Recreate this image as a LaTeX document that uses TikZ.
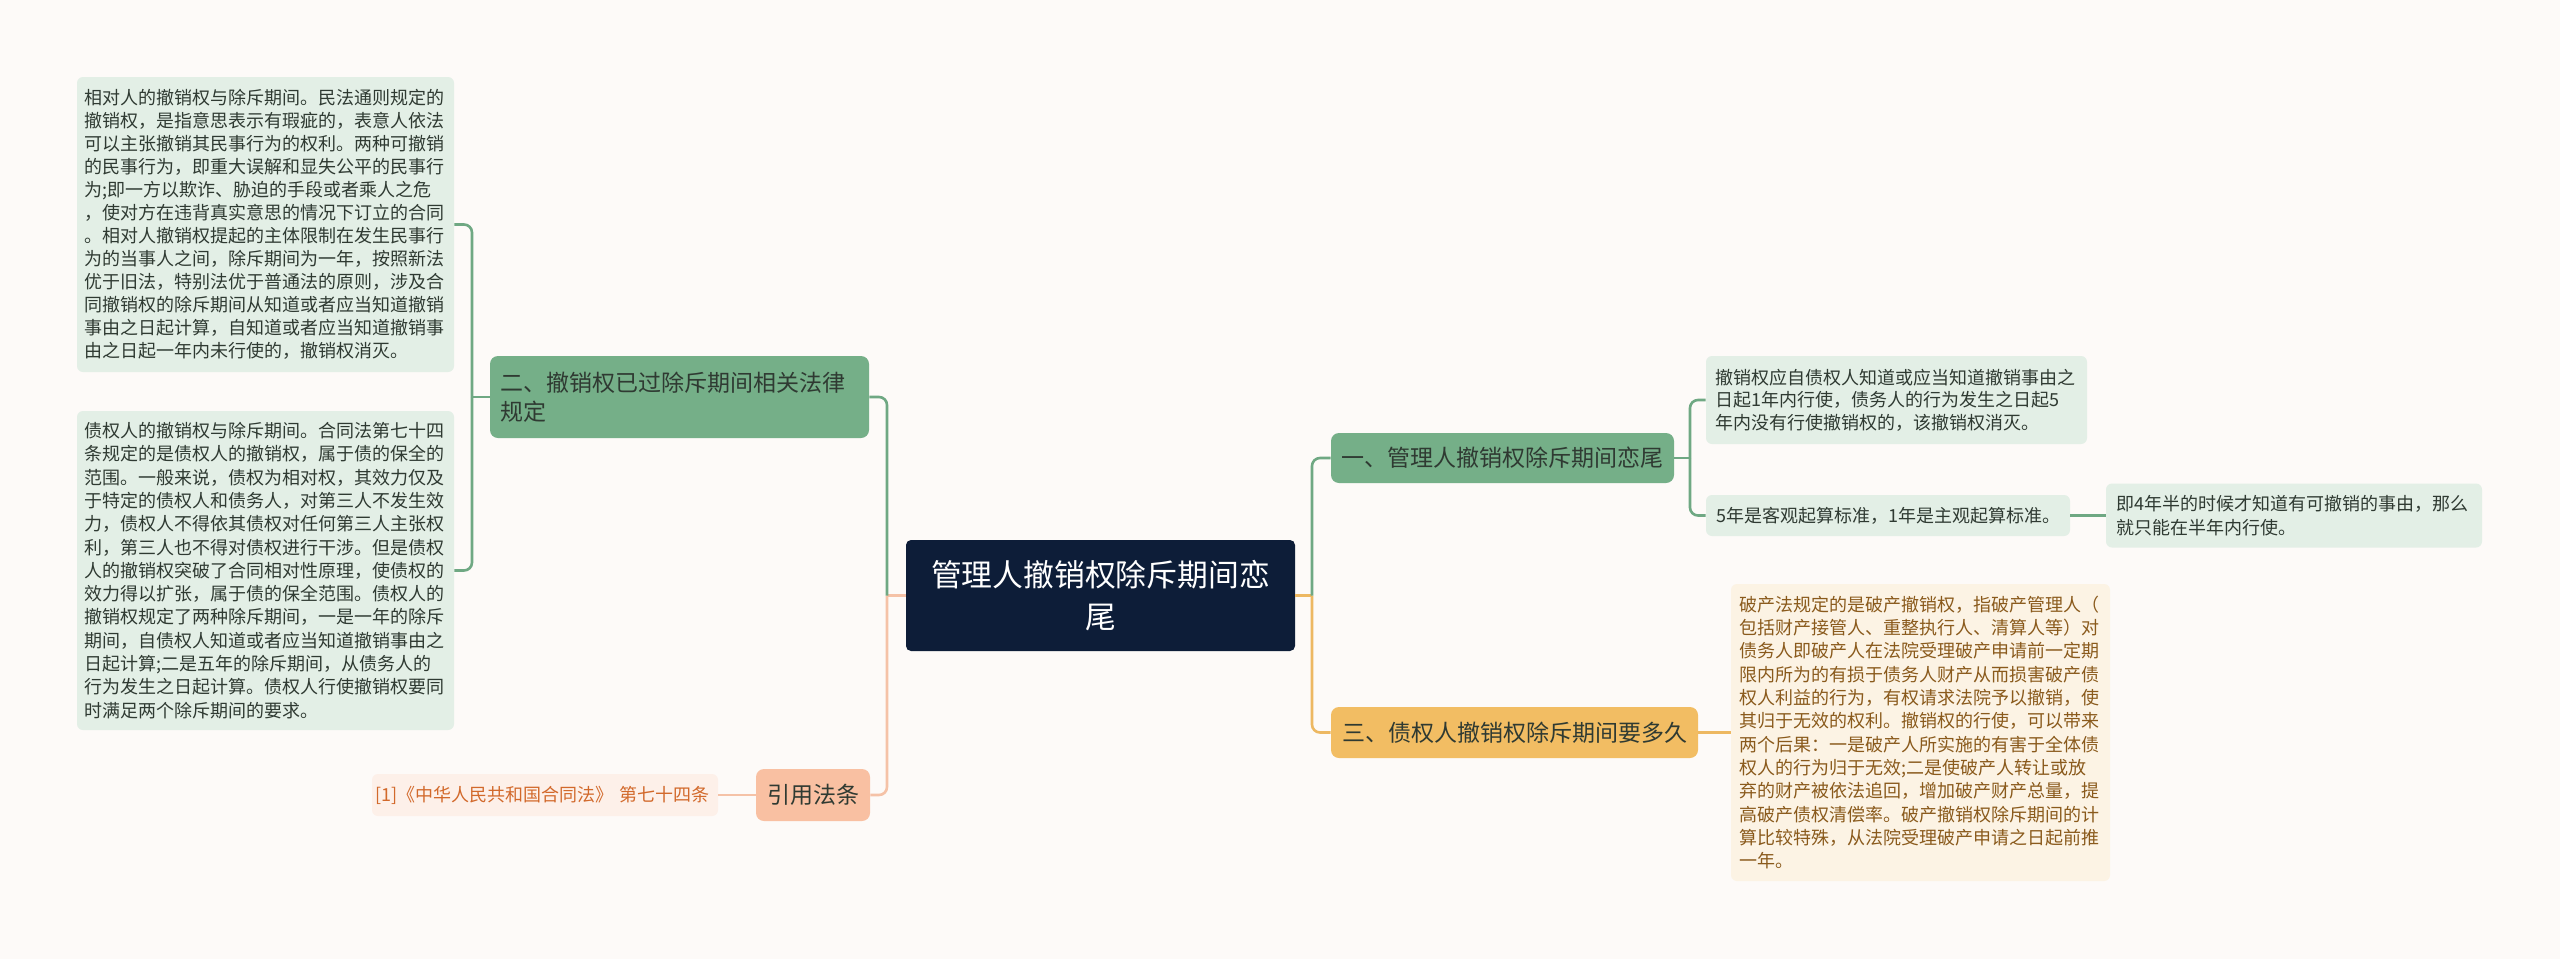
\documentclass[tikz,border=0pt]{standalone}
\usepackage{fontspec}
\setmainfont{Noto Sans CJK SC}
\usetikzlibrary{positioning,calc}
\definecolor{bgc}{HTML}{FDFAF8}
\definecolor{navy}{HTML}{0D1D38}
\definecolor{gmain}{HTML}{75AF88}
\definecolor{gleaf}{HTML}{E3EFE6}
\definecolor{gline}{HTML}{6FA883}
\definecolor{omain}{HTML}{F2BD63}
\definecolor{oleaf}{HTML}{FCF3E4}
\definecolor{oline}{HTML}{EDB862}
\definecolor{otext}{HTML}{8A5A1C}
\definecolor{smain}{HTML}{F9C0A2}
\definecolor{sleaf}{HTML}{FDF0E9}
\definecolor{sline}{HTML}{F5C2A7}
\definecolor{stext}{HTML}{D2692B}
\definecolor{dtext}{HTML}{2F3A32}
\tikzset{
  rootbox/.style={fill=navy, text=white, rounded corners=2.5pt, inner sep=0pt, align=center,
              font=\fontsize{15.4}{21}\selectfont},
  mbox/.style={rounded corners=4pt, inner sep=0pt, text=dtext, font=\fontsize{11.5}{14.7}\selectfont},
  leaf/.style={rounded corners=3pt, inner sep=0pt, align=left, text width=181pt, text=dtext},
  link/.style={line width=1.3pt, rounded corners=4pt}
}
\begin{document}
\begin{tikzpicture}[x=0.5pt, y=-0.5pt]
\useasboundingbox[fill=bgc] (0,0) rectangle (2560,959);
\node[rootbox, minimum width=194.5pt, minimum height=55.5pt, text width=175pt] (root) at (1100.5,595.5) {管理人撤销权除斥期间恋\\尾};
\node[mbox, fill=gmain, minimum width=171.5pt, minimum height=25pt] (m1) at (1502.5,458) {一、管理人撤销权除斥期间恋尾};
\node[mbox, fill=gmain, minimum width=189.5pt, minimum height=41pt, text width=179.5pt, align=left] (m2) at (679.5,397) {二、撤销权已过除斥期间相关法律\\规定};
\node[mbox, fill=omain, minimum width=183.5pt, minimum height=25.5pt] (m3) at (1514.5,732.5) {三、债权人撤销权除斥期间要多久};
\node[mbox, fill=smain, minimum width=57pt, minimum height=26pt] (m4) at (813,795) {引用法条};
\node[leaf, fill=gleaf, minimum width=188.5pt, minimum height=147.5pt, font=\fontsize{9}{11.5}\selectfont] (l1) at (265.5,224.5) {相对人的撤销权与除斥期间。民法通则规定的\\撤销权，是指意思表示有瑕疵的，表意人依法\\可以主张撤销其民事行为的权利。两种可撤销\\的民事行为，即重大误解和显失公平的民事行\\为;即一方以欺诈、胁迫的手段或者乘人之危\\，使对方在违背真实意思的情况下订立的合同\\。相对人撤销权提起的主体限制在发生民事行\\为的当事人之间，除斥期间为一年，按照新法\\优于旧法，特别法优于普通法的原则，涉及合\\同撤销权的除斥期间从知道或者应当知道撤销\\事由之日起计算，自知道或者应当知道撤销事\\由之日起一年内未行使的，撤销权消灭。};
\node[leaf, fill=gleaf, minimum width=188.5pt, minimum height=159.5pt, font=\fontsize{9}{11.65}\selectfont] (l2) at (265.5,570.5) {债权人的撤销权与除斥期间。合同法第七十四\\条规定的是债权人的撤销权，属于债的保全的\\范围。一般来说，债权为相对权，其效力仅及\\于特定的债权人和债务人，对第三人不发生效\\力，债权人不得依其债权对任何第三人主张权\\利，第三人也不得对债权进行干涉。但是债权\\人的撤销权突破了合同相对性原理，使债权的\\效力得以扩张，属于债的保全范围。债权人的\\撤销权规定了两种除斥期间，一是一年的除斥\\期间，自债权人知道或者应当知道撤销事由之\\日起计算;二是五年的除斥期间，从债务人的\\行为发生之日起计算。债权人行使撤销权要同\\时满足两个除斥期间的要求。};
\node[leaf, fill=sleaf, text=stext, minimum width=173pt, minimum height=21pt, text width=170pt, font=\fontsize{9}{11}\selectfont] (c1) at (545,795) {[1]《中华人民共和国合同法》~第七十四条};
\node[leaf, fill=gleaf, minimum width=190.5pt, minimum height=44pt, font=\fontsize{9}{11.2}\selectfont] (r1) at (1896.5,400) {撤销权应自债权人知道或应当知道撤销事由之\\日起1年内行使，债务人的行为发生之日起5\\年内没有行使撤销权的，该撤销权消灭。};
\node[leaf, fill=gleaf, minimum width=182pt, minimum height=20.5pt, text width=172pt, font=\fontsize{9}{11}\selectfont] (r2) at (1888,515.5) {5年是客观起算标准，1年是主观起算标准。};
\node[leaf, fill=gleaf, minimum width=188pt, minimum height=32pt, text width=178pt, font=\fontsize{9}{11.7}\selectfont] (r3) at (2294,515.5) {即4年半的时候才知道有可撤销的事由，那么\\就只能在半年内行使。};
\node[leaf, fill=oleaf, text=otext, minimum width=189.5pt, minimum height=148.5pt, font=\fontsize{9}{11.65}\selectfont] (r4) at (1920.5,732.5) {破产法规定的是破产撤销权，指破产管理人（\\包括财产接管人、重整执行人、清算人等）对\\债务人即破产人在法院受理破产申请前一定期\\限内所为的有损于债务人财产从而损害破产债\\权人利益的行为，有权请求法院予以撤销，使\\其归于无效的权利。撤销权的行使，可以带来\\两个后果：一是破产人所实施的有害于全体债\\权人的行为归于无效;二是使破产人转让或放\\弃的财产被依法追回，增加破产财产总量，提\\高破产债权清偿率。破产撤销权除斥期间的计\\算比较特殊，从法院受理破产申请之日起前推\\一年。};
\coordinate (jr) at (1312,595.5);
\coordinate (jl) at (887,595.5);
\coordinate (jm) at (472,397);
\coordinate (ja) at (1690,458);
\draw[link, oline] (root.east) -- (jr);
\draw[link, oline] (jr) |- (m3.west);
\draw[link, gline] (jr) |- (m1.west);
\draw[link, sline] (root.west) -- (jl);
\draw[link, sline] (jl) |- (m4.east);
\draw[link, gline] (jl) |- (m2.east);
\draw[link, gline] (m2.west) -- (jm);
\draw[link, gline] (jm) |- (l1.east);
\draw[link, gline] (jm) |- (l2.east);
\draw[link, gline] (m1.east) -- (ja);
\draw[link, gline] (ja) |- (r1.west);
\draw[link, gline] (ja) |- (r2.west);
\draw[link, gline] (r2.east) -- (r3.west);
\draw[link, oline] (m3.east) -- (r4.west);
\draw[link, sline] (m4.west) -- (c1.east);
\end{tikzpicture}
\end{document}
